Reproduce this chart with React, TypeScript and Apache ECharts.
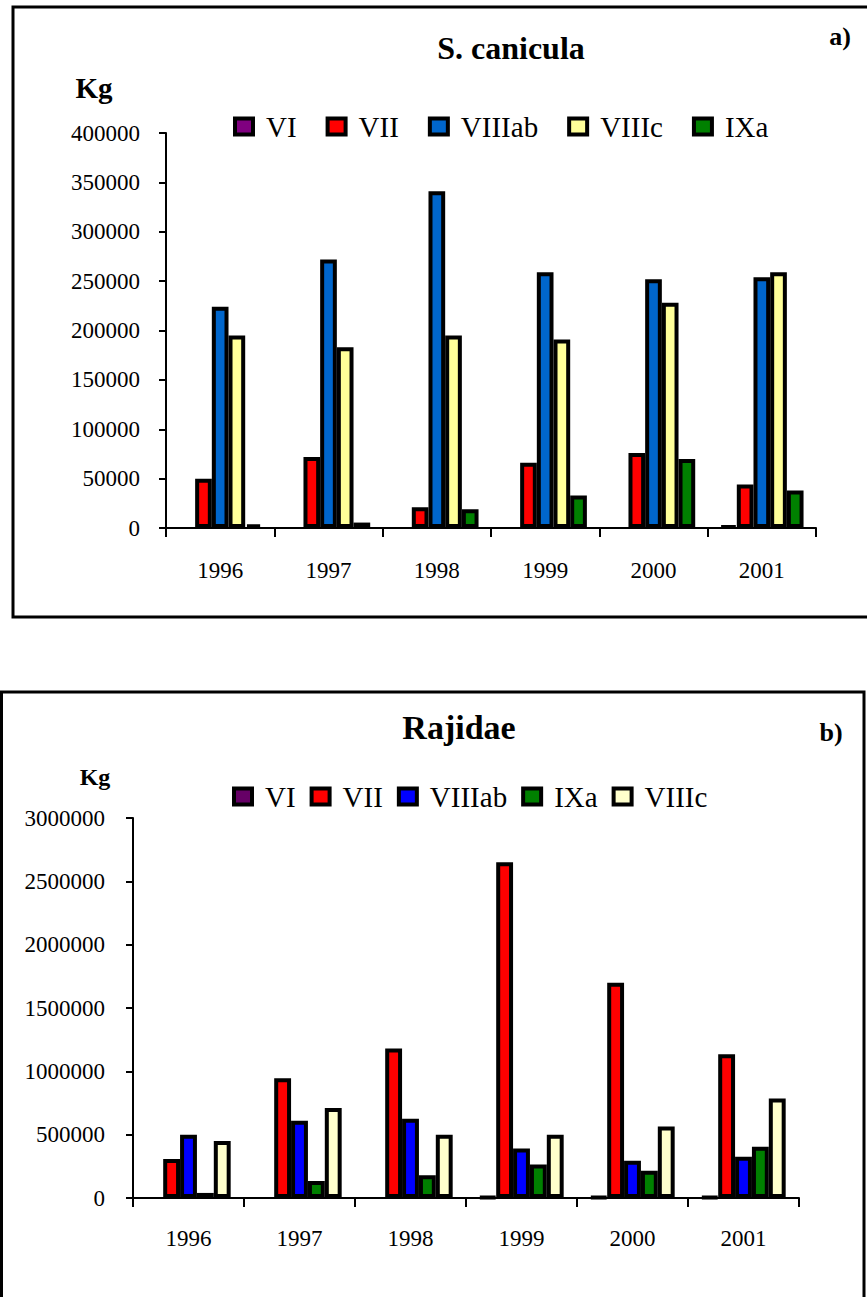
import React, { useEffect, useRef } from "react";
import * as echarts from "echarts";

const years = ["1996", "1997", "1998", "1999", "2000", "2001"];

// a) S. canicula (Kg)
const canNames = ["VI", "VII", "VIIIab", "VIIIc", "IXa"];
const canColors = ["#800080", "#FF0000", "#0066CC", "#FFFF99", "#008000"];
const canVI = [0, 0, 0, 0, 0, 2000];
const canVII = [50000, 72000, 21000, 66000, 76000, 44000];
const canVIIIab = [224000, 272000, 341000, 259000, 252000, 254000];
const canVIIIc = [195000, 183000, 195000, 191000, 228000, 259000];
const canIXa = [3500, 5500, 19000, 33000, 70000, 38000];
const canTicks = { min: 0, max: 400000, interval: 50000 };

// b) Rajidae (Kg)
const rajNames = ["VI", "VII", "VIIIab", "IXa", "VIIIc"];
const rajColors = ["#660066", "#FF0000", "#0000FF", "#008000", "#FFFFCC"];
const rajVI = [0, 0, 0, 8000, 8000, 8000];
const rajVII = [308000, 945000, 1180000, 2650000, 1700000, 1135000];
const rajVIIIab = [500000, 610000, 625000, 390000, 295000, 325000];
const rajIXa = [40000, 135000, 180000, 265000, 215000, 405000];
const rajVIIIc = [450000, 710000, 500000, 500000, 565000, 785000];
const rajTicks = { min: 0, max: 3000000, interval: 500000 };

const FONT = "'Liberation Serif', 'Times New Roman', serif";

function buildOption(cfg: any) {
  return {
    animation: false,
    textStyle: { fontFamily: FONT, color: "#000" },
    graphic: cfg.graphic,
    legend: {
      left: cfg.legendLeft,
      top: cfg.legendTop,
      padding: 0,
      itemWidth: 18,
      itemHeight: 16,
      itemGap: cfg.legendGap,
      icon: "rect",
      selectedMode: false,
      itemStyle: { borderColor: "#000", borderWidth: 4 },
      textStyle: { fontSize: 29, fontFamily: FONT, color: "#000", padding: [0, 0, 0, 8] },
      data: cfg.names,
    },
    grid: {
      left: cfg.grid.left,
      top: cfg.grid.top,
      width: cfg.grid.width,
      height: cfg.grid.height,
      containLabel: false,
    },
    xAxis: {
      type: "category",
      data: years,
      axisLine: { lineStyle: { color: "#000", width: 2 } },
      axisTick: { show: true, length: 9, lineStyle: { color: "#000", width: 2 } },
      axisLabel: { fontSize: 23, color: "#000", fontFamily: FONT, margin: cfg.xMargin },
      splitLine: { show: false },
    },
    yAxis: {
      type: "value",
      min: cfg.ticks.min,
      max: cfg.ticks.max,
      interval: cfg.ticks.interval,
      axisLine: { show: true, lineStyle: { color: "#000", width: 2 } },
      axisTick: { show: true, length: 7, lineStyle: { color: "#000", width: 2 } },
      axisLabel: {
        fontSize: 23,
        color: "#000",
        fontFamily: FONT,
        margin: cfg.yMargin,
        formatter: (v: number) => String(v),
      },
      splitLine: { show: false },
    },
    series: cfg.data.map((d: number[], i: number) => ({
      name: cfg.names[i],
      type: "bar",
      data: d.map((v) => (v === 0 ? null : v)),
      barGap: "0%",
      barCategoryGap: cfg.catGap,
      itemStyle: { color: cfg.colors[i], borderColor: "#000", borderWidth: 4 },
      emphasis: { disabled: true },
    })),
  };
}

export default function App() {
  const topRef = useRef<HTMLDivElement>(null);
  const botRef = useRef<HTMLDivElement>(null);

  useEffect(() => {
    const top = echarts.init(topRef.current!, undefined, { renderer: "svg" });
    const bot = echarts.init(botRef.current!, undefined, { renderer: "svg" });

    top.setOption(
      buildOption({
        names: canNames,
        colors: canColors,
        data: [canVI, canVII, canVIIIab, canVIIIc, canIXa],
        ticks: canTicks,
        grid: { left: 166, top: 133, width: 650, height: 395 },
        legendLeft: 233,
        legendTop: 112,
        legendGap: 29,
        catGap: "23%",
        xMargin: 31,
        yMargin: 26,
        graphic: [
          {
            type: "rect",
            shape: { x: 13, y: 7, width: 900, height: 610 },
            style: { fill: "none", stroke: "#000", lineWidth: 3 },
            silent: true,
          },
          {
            type: "text",
            x: 511,
            y: 48,
            style: {
              text: "S. canicula",
              font: `bold 32px ${FONT}`,
              fill: "#000",
              textAlign: "center",
              textVerticalAlign: "middle",
            },
          },
          {
            type: "text",
            x: 840,
            y: 36,
            style: {
              text: "a)",
              font: `bold 26px ${FONT}`,
              fill: "#000",
              textAlign: "center",
              textVerticalAlign: "middle",
            },
          },
          {
            type: "text",
            x: 94,
            y: 88,
            style: {
              text: "Kg",
              font: `bold 29px ${FONT}`,
              fill: "#000",
              textAlign: "center",
              textVerticalAlign: "middle",
            },
          },
        ],
      })
    );

    bot.setOption(
      buildOption({
        names: rajNames,
        colors: rajColors,
        data: [rajVI, rajVII, rajVIIIab, rajIXa, rajVIIIc],
        ticks: rajTicks,
        grid: { left: 133, top: 168, width: 666, height: 380 },
        legendLeft: 232,
        legendTop: 132,
        legendGap: 14,
        catGap: "24%",
        xMargin: 29,
        yMargin: 28,
        graphic: [
          {
            type: "rect",
            shape: { x: 1.5, y: 42, width: 862.5, height: 700 },
            style: { fill: "none", stroke: "#000", lineWidth: 3 },
            silent: true,
          },
          {
            type: "text",
            x: 459,
            y: 77,
            style: {
              text: "Rajidae",
              font: `bold 34px ${FONT}`,
              fill: "#000",
              textAlign: "center",
              textVerticalAlign: "middle",
            },
          },
          {
            type: "text",
            x: 831,
            y: 82,
            style: {
              text: "b)",
              font: `bold 26px ${FONT}`,
              fill: "#000",
              textAlign: "center",
              textVerticalAlign: "middle",
            },
          },
          {
            type: "text",
            x: 95,
            y: 127,
            style: {
              text: "Kg",
              font: `bold 24px ${FONT}`,
              fill: "#000",
              textAlign: "center",
              textVerticalAlign: "middle",
            },
          },
        ],
      })
    );

    return () => {
      top.dispose();
      bot.dispose();
    };
  }, []);

  return (
    <div>
      <div
        ref={topRef}
        style={{ position: "absolute", left: 0, top: 0, width: 867, height: 650 }}
      />
      <div
        ref={botRef}
        style={{ position: "absolute", left: 0, top: 650, width: 867, height: 647 }}
      />
    </div>
  );
}
